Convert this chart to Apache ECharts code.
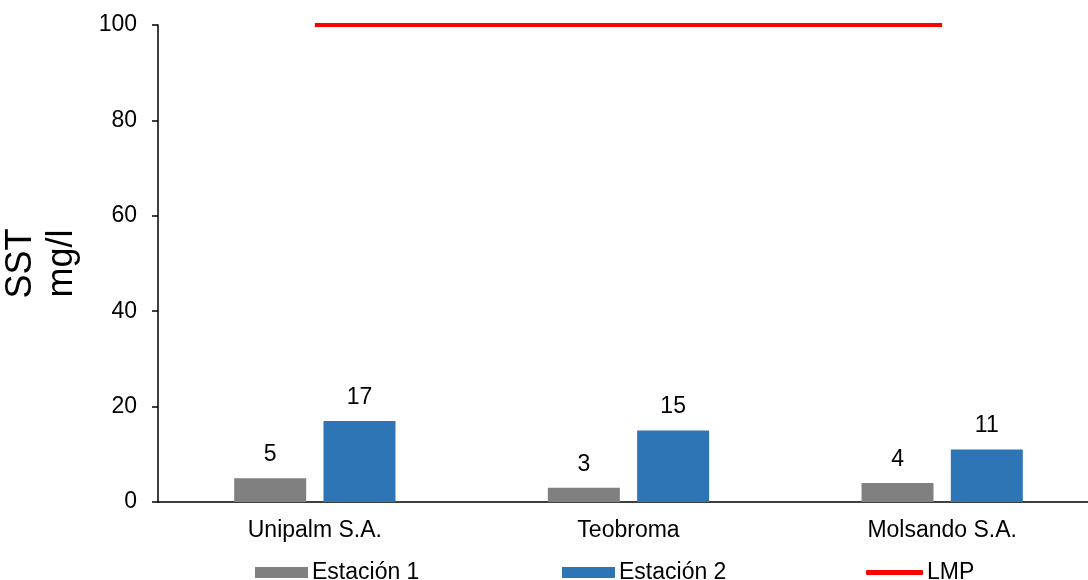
<!DOCTYPE html>
<html>
<head>
<meta charset="utf-8">
<script src="https://cdn.jsdelivr.net/npm/echarts@6/dist/echarts.min.js"></script>
<style>
  html, body { margin: 0; padding: 0; background: #fff; }
  #chart { width: 1088px; height: 580px; }
</style>
</head>
<body>
<div id="chart"></div>
<script>
const categories = ['Unipalm S.A.', 'Teobroma', 'Molsando S.A.'];
const estacion1 = [5, 3, 4];
const estacion2 = [17, 15, 11];
const lmp = [100, 100, 100];
const yTicks = { min: 0, max: 100, interval: 20 };

const FONT = '"Liberation Sans", Arial, sans-serif';
const chart = echarts.init(document.getElementById('chart'));

const legendText = { fontSize: 23, fontFamily: FONT, color: '#000', padding: [0, 0, 0, -1] };
const legendBase = { top: 561, padding: 0, itemGap: 0, textStyle: legendText };

const option = {
  animation: false,
  grid: { left: 158, right: -11, top: 25, bottom: 78, containLabel: false, outerBoundsMode: 'none' },
  legend: [
    Object.assign({ data: ['Estación 1'], left: 255, itemWidth: 53, itemHeight: 11, icon: 'rect' }, legendBase),
    Object.assign({ data: ['Estación 2'], left: 562, itemWidth: 53, itemHeight: 11, icon: 'rect' }, legendBase),
    Object.assign({ data: ['LMP'], left: 866, itemWidth: 57, itemHeight: 5, icon: 'roundRect' }, legendBase)
  ],
  xAxis: {
    type: 'category',
    data: categories,
    boundaryGap: true,
    axisLine: { lineStyle: { color: '#000', width: 1.5 } },
    axisTick: { show: false },
    axisLabel: { fontSize: 23, fontFamily: FONT, color: '#000', margin: 17 }
  },
  yAxis: {
    type: 'value',
    min: yTicks.min,
    max: yTicks.max,
    interval: yTicks.interval,
    name: 'SST\nmg/l',
    nameLocation: 'middle',
    nameRotate: 90,
    nameGap: 75,
    nameMoveOverlap: false,
    nameTextStyle: { fontSize: 36, fontFamily: FONT, color: '#000', lineHeight: 41 },
    axisLine: { show: true, lineStyle: { color: '#000', width: 1.5 } },
    axisTick: { show: true, length: 6, lineStyle: { color: '#000', width: 1.5 } },
    axisLabel: { fontSize: 23, fontFamily: FONT, color: '#000', margin: 21 },
    splitLine: { show: false }
  },
  series: [
    {
      name: 'Estación 1', type: 'bar', data: estacion1,
      barWidth: 72, barGap: '24%',
      itemStyle: { color: '#808080' },
      label: { show: true, position: 'top', distance: 12, fontSize: 23, fontFamily: FONT, color: '#000' }
    },
    {
      name: 'Estación 2', type: 'bar', data: estacion2,
      barWidth: 72,
      itemStyle: { color: '#2E75B6' },
      label: { show: true, position: 'top', distance: 12, fontSize: 23, fontFamily: FONT, color: '#000' }
    },
    {
      name: 'LMP', type: 'line', data: lmp,
      symbol: 'none',
      lineStyle: { color: '#FF0000', width: 4 },
      itemStyle: { color: '#FF0000' },
      z: 5
    }
  ]
};

chart.setOption(option);
window.addEventListener('resize', () => chart.resize());
</script>
</body>
</html>
